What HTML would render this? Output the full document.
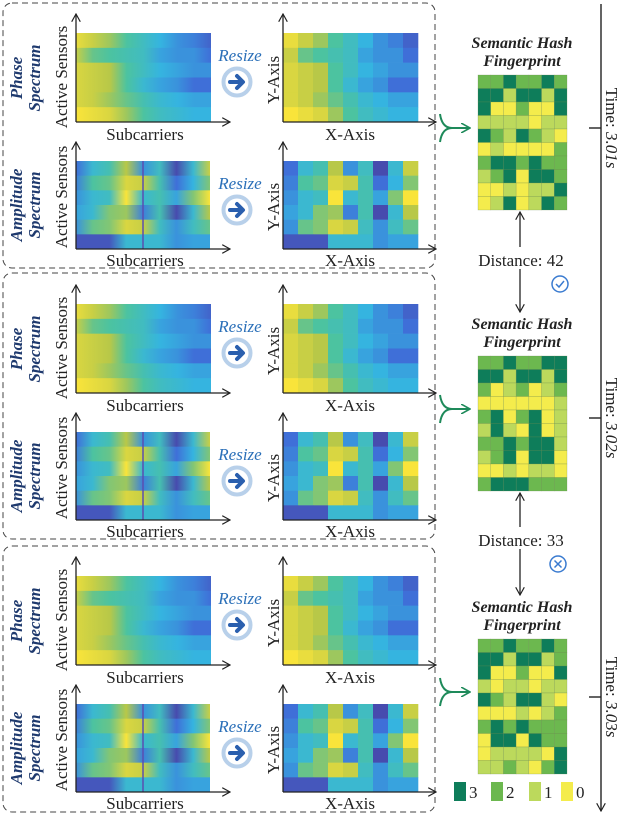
<!DOCTYPE html>
<html><head><meta charset="utf-8"><style>
html,body{margin:0;padding:0;background:#fff;}
svg{display:block;font-family:"Liberation Serif",serif;}
</style></head><body>
<svg id="fig" width="624" height="818" viewBox="0 0 624 818" xmlns="http://www.w3.org/2000/svg">
<defs>
<marker id="ah" viewBox="0 0 10 10" refX="9" refY="5" markerWidth="9" markerHeight="9" orient="auto-start-reverse" markerUnits="userSpaceOnUse"><path d="M0,0 L9,5 L0,10" fill="none" stroke="#222" stroke-width="1.3"/></marker>
<marker id="ahg" viewBox="0 0 10 10" refX="9" refY="5" markerWidth="10" markerHeight="10" orient="auto" markerUnits="userSpaceOnUse"><path d="M0,0 L9,5 L0,10" fill="none" stroke="#1e8a5a" stroke-width="1.6"/></marker>
</defs>
</svg>
<script>
// ---- data ----
const phaseGrid = [
 [.95,.85,.75,.6,.5,.4,.3,.25,.15],
 [.85,.65,.6,.55,.5,.35,.3,.3,.2],
 [.9,.85,.8,.6,.5,.4,.35,.3,.3],
 [.9,.85,.8,.6,.45,.35,.3,.2,.2],
 [.9,.85,.75,.65,.55,.45,.4,.35,.35],
 [1,.95,.9,.75,.6,.5,.45,.4,.4]
];
const ampGrid = [
 [.2,.45,.55,.8,.3,.5,.05,.45,.85],
 [.25,.6,.65,.9,.85,.55,.2,.4,.7],
 [.3,.45,.5,1,.45,.55,.35,.7,1],
 [.35,.45,.7,.75,.25,.55,.05,.45,.8],
 [.3,.65,.7,.9,.85,.5,.3,.5,.65],
 [.1,.1,.1,.45,.45,.45,.3,.35,.35]
];
const fp1 = [[2,2,3,2,2,3,2],[3,3,1,3,3,1,3],[3,0,0,2,0,0,3],[1,1,1,1,0,1,1],[3,2,1,3,2,1,0],[0,1,0,0,0,0,2],[2,3,3,2,3,2,2],[1,2,3,0,3,3,2],[0,0,1,0,1,1,3],[0,1,3,0,1,3,2]];
const fp2 = [[2,2,3,2,2,3,3],[3,3,1,3,3,1,3],[2,0,1,2,0,1,2],[0,0,0,0,0,0,1],[2,3,0,2,3,0,1],[1,3,1,0,3,0,1],[2,2,3,2,3,3,1],[1,2,3,0,3,3,0],[0,0,1,0,1,1,0],[2,3,3,3,2,2,2]];
const fp3 = [[2,2,3,2,2,3,2],[3,3,1,3,3,1,2],[3,0,0,2,0,0,3],[1,0,1,1,0,1,1],[3,2,1,3,3,1,0],[0,0,0,1,0,1,2],[2,3,2,3,2,2,2],[0,3,3,0,3,2,2],[0,1,1,1,1,0,3],[1,1,2,1,0,2,3]];
const fingerprints = [fp1, fp2, fp3];
const distances = ["42","33"];
const times = ["3.01s","3.02s","3.03s"];
const legendLevels = [3,2,1,0];

// ---- helpers ----
const NS="http://www.w3.org/2000/svg";
const svg=document.getElementById('fig');
function mk(tag,attrs,parent,text){const e=document.createElementNS(NS,tag);for(const k in attrs)e.setAttribute(k,attrs[k]);if(text!==undefined)e.textContent=text;(parent||svg).appendChild(e);return e;}
const stops=[[0,[74,63,160]],[.2,[63,111,216]],[.4,[53,180,224]],[.6,[76,195,160]],[.8,[184,200,72]],[1,[249,228,58]]];
function cmap(v){v=Math.max(0,Math.min(1,v));for(let i=1;i<stops.length;i++){if(v<=stops[i][0]){const a=stops[i-1],b=stops[i],t=(v-a[0])/(b[0]-a[0]);const c=a[1].map((x,j)=>Math.round(x+(b[1][j]-x)*t));return `rgb(${c})`;}}return 'rgb(249,228,58)';}
const fpColors={3:'#0e7d5a',2:'#6cb84f',1:'#bcd95c',0:'#f4ec4c'};
let gid=0;

function axes(x0,yTop,y0,xEnd,g){
  mk('line',{x1:x0,y1:y0,x2:x0,y2:yTop,stroke:'#222','stroke-width':1.3,'marker-end':'url(#ah)'},g);
  mk('line',{x1:x0,y1:y0,x2:xEnd,y2:y0,stroke:'#222','stroke-width':1.3,'marker-end':'url(#ah)'},g);
}
function smoothMap(x,y,w,h,grid,name,g,vline){
  const hm=mk('g',{},g);
  
  
  const rh=h/grid.length;
  grid.forEach((row,r)=>{
    const id='lg'+(gid++);
    const lg=mk('linearGradient',{id:id,x1:0,x2:1,y1:0,y2:0},svg.querySelector('defs'));
    row.forEach((v,c)=>mk('stop',{offset:(c/(row.length-1)),'stop-color':cmap(v)},lg));
    const rc=mk('rect',{x:x,y:y+r*rh,width:w,height:rh+0.5,fill:`url(#${id})`},hm);
    
    
  });
  if(vline) mk('line',{x1:x+w*0.5,y1:y,x2:x+w*0.5,y2:y+h,stroke:'#5b4fb0','stroke-width':1.5},hm);
}
function cellMap(x,y,w,h,grid,name,g){
  const hm=mk('g',{},g);
  
  
  const rh=h/grid.length,cw=w/grid[0].length;
  grid.forEach((row,r)=>row.forEach((v,c)=>{
    const rc=mk('rect',{x:x+c*cw,y:y+r*rh,width:cw+0.3,height:rh+0.3,fill:cmap(v)},hm);
    
    
  }));
}
function rotText(x,y,txt,attrs,g,name){
  const t=mk('text',Object.assign({x:0,y:0,transform:`translate(${x},${y}) rotate(-90)`,'text-anchor':'middle','font-size':17,fill:'#222'},attrs),g,txt);
  
  
  return t;
}
function resize(cx,cy,g){
  const rg=mk('g',{},g);
  
  
  mk('text',{x:cx+3,y:cy-21,'text-anchor':'middle','font-size':17,'font-style':'italic',fill:'#2a6fb8'},rg,'Resize');
  mk('circle',{cx:cx,cy:cy,r:13.5,fill:'#fff',stroke:'#b8d0ea','stroke-width':4},rg);
  mk('path',{d:`M${cx-7},${cy} L${cx+5},${cy} M${cx},${cy-6} L${cx+6},${cy} L${cx},${cy+6}`,fill:'none',stroke:'#2a5fae','stroke-width':4,'stroke-linecap':'round','stroke-linejoin':'round'},rg);
}

// ---- left panels ----
const boxOff=[0,271,543];
const boxRects=[[3,3,432,265],[3,273,432,266],[3,546,432,266]];
boxOff.forEach((o,b)=>{
  const g=mk('g',{});
  
  
  const br=boxRects[b];
  mk('rect',{x:br[0],y:br[1],width:br[2],height:br[3],rx:9,fill:'none',stroke:'#444','stroke-width':1,'stroke-dasharray':'6,4'},g);
  // phase row
  smoothMap(76,33+o,135,89,phaseGrid,'phase-heatmap',g,false);
  axes(76,14+o,122+o,230,g);
  mk('text',{x:145,y:140+o,'text-anchor':'middle','font-size':17,fill:'#222'},g,'Subcarriers');
  rotText(67,77+o,'Active Sensors',{},g,'y-axis-title');
  rotText(22,78+o,'Phase',{'font-weight':'bold','font-style':'italic',fill:'#1f3a6e'},g,'phase-label');
  rotText(40,78+o,'Spectrum',{'font-weight':'bold','font-style':'italic',fill:'#1f3a6e'},g,'phase-label');
  resize(237,82+o,g);
  cellMap(283,33+o,135,89,phaseGrid,'phase-resized-heatmap',g);
  axes(283,14+o,122+o,436,g);
  mk('text',{x:350,y:140+o,'text-anchor':'middle','font-size':17,fill:'#222'},g,'X-Axis');
  rotText(279,80+o,'Y-Axis',{},g,'y-axis-title');
  // amplitude row
  smoothMap(76,161+o,134,88,ampGrid,'amplitude-heatmap',g,true);
  axes(76,142+o,249+o,230,g);
  mk('text',{x:145,y:266+o,'text-anchor':'middle','font-size':17,fill:'#222'},g,'Subcarriers');
  rotText(67,197+o,'Active Sensors',{},g,'y-axis-title');
  rotText(22,205+o,'Amplitude',{'font-weight':'bold','font-style':'italic',fill:'#1f3a6e'},g,'amplitude-label');
  rotText(40,205+o,'Spectrum',{'font-weight':'bold','font-style':'italic',fill:'#1f3a6e'},g,'amplitude-label');
  resize(237,210+o,g);
  cellMap(283,161+o,135,88,ampGrid,'amplitude-resized-heatmap',g);
  axes(283,142+o,249+o,436,g);
  mk('text',{x:350,y:266+o,'text-anchor':'middle','font-size':17,fill:'#222'},g,'X-Axis');
  rotText(279,207+o,'Y-Axis',{},g,'y-axis-title');
});

// ---- fingerprints ----
const fpTop=[75,356,639];
const fpX=478,fpW=89,fpH=135;
fingerprints.forEach((grid,i)=>{
  const g=mk('g',{});
  
  
  const y=fpTop[i];
  const t1=mk('text',{x:522,y:y-27,'text-anchor':'middle','font-size':16,'font-weight':'bold','font-style':'italic',fill:'#222'},g,'Semantic Hash');
  
  
  const t2=mk('text',{x:522,y:y-9,'text-anchor':'middle','font-size':16,'font-weight':'bold','font-style':'italic',fill:'#222'},g,'Fingerprint');
  
  
  const cw=fpW/grid[0].length,rh=fpH/grid.length;
  grid.forEach((row,r)=>row.forEach((v,c)=>{
    const rc=mk('rect',{x:fpX+c*cw,y:y+r*rh,width:cw,height:rh,fill:fpColors[v],stroke:'#6a8a50','stroke-width':0.4,'stroke-opacity':0.6},g);
    
    
  }));
  // green merge arrow
  const cy=y+53;
  const ar=mk('g',{},g);
  
  
  mk('path',{d:`M440,${cy-14} Q442,${cy} 452,${cy} Q442,${cy} 440,${cy+14}`,fill:'none',stroke:'#1e8a5a','stroke-width':2},ar);
  mk('line',{x1:450,y1:cy,x2:470,y2:cy,stroke:'#1e8a5a','stroke-width':2,'marker-end':'url(#ahg)'},ar);
});

// ---- distances ----
const distY=[260,540];
distances.forEach((d,i)=>{
  const g=mk('g',{});
  
  
  const y=distY[i];
  mk('line',{x1:520,y1:y-13,x2:520,y2:fpTop[i]+fpH+2,stroke:'#222','stroke-width':1.3,'marker-end':'url(#ah)'},g);
  mk('line',{x1:520,y1:y+9,x2:520,y2:fpTop[i+1]-44,stroke:'#222','stroke-width':1.3,'marker-end':'url(#ah)'},g);
  mk('rect',{x:472,y:y-11,width:100,height:20,fill:'#fff'},g);
  mk('text',{x:521,y:y+6,'text-anchor':'middle','font-size':17,fill:'#222'},g,'Distance: '+d);
  const ic=mk('g',{},g);
  
  
  const cx=i===0?560:558,cy=y+24;
  mk('circle',{cx:cx,cy:cy,r:8,fill:'none',stroke:'#3a7bd0','stroke-width':1.5},ic);
  if(i===0) mk('path',{d:`M${cx-4},${cy} L${cx-1},${cy+3} L${cx+4},${cy-3}`,fill:'none',stroke:'#3a7bd0','stroke-width':1.5},ic);
  else mk('path',{d:`M${cx-3.5},${cy-3.5} L${cx+3.5},${cy+3.5} M${cx+3.5},${cy-3.5} L${cx-3.5},${cy+3.5}`,fill:'none',stroke:'#3a7bd0','stroke-width':1.5},ic);
});

// ---- timeline ----
const tl=mk('g',{});


mk('line',{x1:601,y1:4,x2:601,y2:811,stroke:'#222','stroke-width':1.4,'marker-end':'url(#ah)'},tl);
const tickY=[128,418,697];
times.forEach((t,i)=>{
  mk('line',{x1:589,y1:tickY[i],x2:601,y2:tickY[i],stroke:'#222','stroke-width':1.4},tl);
  const tx=mk('text',{x:0,y:0,transform:`translate(606,${tickY[i]}) rotate(90)`,'text-anchor':'middle','font-size':17,fill:'#222'},tl);
  
  
  mk('tspan',{},tx,'Time: ');
  mk('tspan',{'font-style':'italic'},tx,t);
});

// ---- legend ----
const lgd=mk('g',{});


const lgX=[454,491,529,561];
legendLevels.forEach((v,i)=>{
  const e=mk('g',{},lgd);
  
  
  mk('rect',{x:lgX[i],y:782,width:12,height:19,fill:fpColors[v]},e);
  mk('text',{x:lgX[i]+15,y:798,'font-size':17,fill:'#222'},e,String(v));
});
</script>
</body></html>
